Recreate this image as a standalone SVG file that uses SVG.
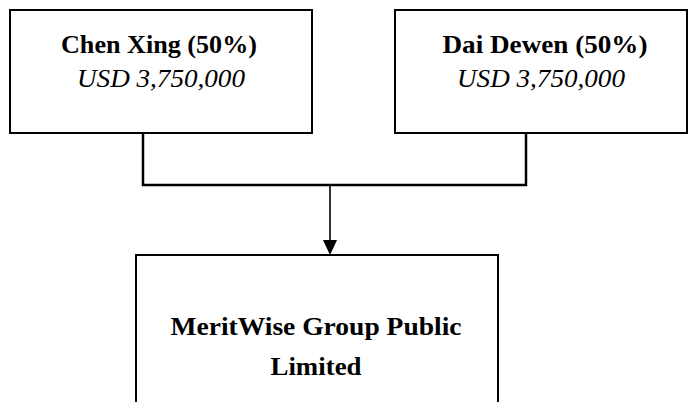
<svg xmlns="http://www.w3.org/2000/svg" width="689" height="402" viewBox="0 0 689 402">
<style>
.box{fill:#fff;stroke:#000;stroke-width:2}
.b{font-family:"Liberation Serif",serif;font-weight:bold;font-size:26px;text-anchor:middle;fill:#000}
.i{font-family:"Liberation Serif",serif;font-style:italic;font-size:26px;text-anchor:middle;fill:#000}
.c{fill:none;stroke:#000;stroke-width:2.5}
</style>
<g id="connectors">
<polyline class="c" points="143,133 143,185 526,185 526,133"/>
<line x1="330" y1="185" x2="330" y2="241" stroke="#000" stroke-width="1.6"/>
<path d="M323,240 L337,240 L330,255 Z" fill="#000"/>
</g>
<g id="chen">
<rect class="box" x="10" y="10" width="302" height="123"/>
<text class="b" x="159" y="53" textLength="196" lengthAdjust="spacingAndGlyphs">Chen Xing (50%)</text>
<text class="i" x="161" y="87" textLength="168" lengthAdjust="spacingAndGlyphs">USD 3,750,000</text>
</g>
<g id="dai">
<rect class="box" x="395" y="10" width="292" height="123"/>
<text class="b" x="545" y="53" textLength="205" lengthAdjust="spacingAndGlyphs">Dai Dewen (50%)</text>
<text class="i" x="541" y="87" textLength="168" lengthAdjust="spacingAndGlyphs">USD 3,750,000</text>
</g>
<g id="meritwise">
<rect class="box" x="136" y="255" width="362" height="160"/>
<text class="b" x="316" y="335" textLength="291" lengthAdjust="spacingAndGlyphs">MeritWise Group Public</text>
<text class="b" x="316" y="375" textLength="91" lengthAdjust="spacingAndGlyphs">Limited</text>
</g>
</svg>
